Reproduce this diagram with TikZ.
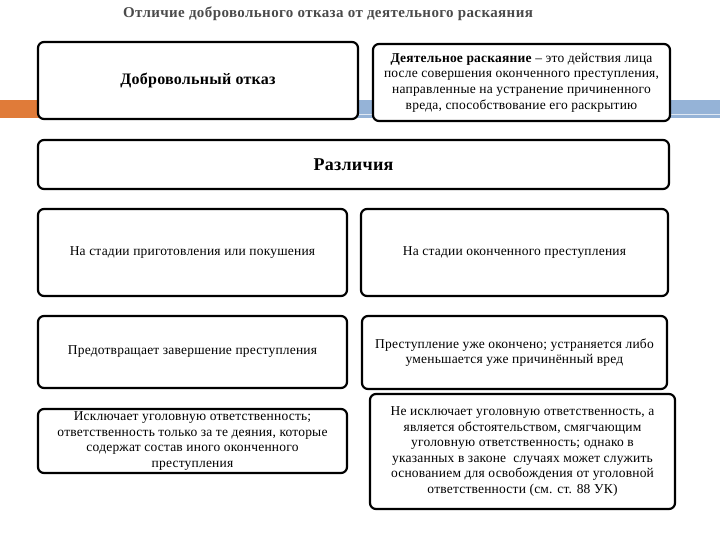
\documentclass[tikz,border=0pt]{standalone}
\usepackage{fontspec}
\setmainfont{Liberation Serif}
\definecolor{bandorange}{HTML}{E07B39}
\definecolor{bandblue}{HTML}{95B3D7}
\definecolor{titlegray}{HTML}{4A4A4A}
\newfontfamily\bodyfont[LetterSpace=1.5]{Liberation Serif}
\newfontfamily\titlefont[LetterSpace=2.6]{Liberation Serif}
\tikzset{
  box/.style={draw=black, line width=2.2pt, rounded corners=6pt, fill=white,
    inner sep=0pt, align=center, font=\bodyfont\fontsize{13.5}{15.6}\selectfont},
}
\begin{document}
\begin{tikzpicture}[x=1pt,y=-1pt]
\useasboundingbox (0,0) rectangle (720,540);
% band
\fill[bandorange] (0,100) rectangle (40,118);
\fill[bandblue] (40,100) rectangle (720,118);
\fill[white!70!bandblue] (40,114) rectangle (720,115.5);
% title
\node[text=titlegray, font=\titlefont\bfseries\fontsize{15}{17}\selectfont] (title) at (328,14) {Отличие добровольного отказа от деятельного раскаяния};
% top boxes
\node[box, minimum width=320pt, minimum height=77pt, font=\bodyfont\bfseries\fontsize{16}{18}\selectfont] (dob) at (198,80.5) {Добровольный отказ};
\node[box, minimum width=297pt, minimum height=77pt] (der) at (521.5,82.5)
  {\textbf{Деятельное раскаяние} – это действия лица\\после совершения оконченного преступления,\\направленные на устранение причиненного\\вреда, способствование его раскрытию};
\node[box, minimum width=631pt, minimum height=49pt, font=\bodyfont\bfseries\fontsize{18}{20}\selectfont] (raz) at (353.5,164.5) {Различия};
% rows
\node[box, minimum width=309pt, minimum height=87pt] (a1) at (192.5,252.5) {На стадии приготовления или покушения};
\node[box, minimum width=307pt, minimum height=87pt] (b1) at (514.5,252.5) {На стадии оконченного преступления};
\node[box, minimum width=309pt, minimum height=72pt] (a2) at (192.5,352) {Предотвращает завершение преступления};
\node[box, minimum width=305pt, minimum height=73pt] (b2) at (514.5,352.5) {Преступление уже окончено; устраняется либо\\уменьшается уже причинённый вред};
\node[box, minimum width=309pt, minimum height=64pt] (a3) at (192.5,441) {Исключает уголовную ответственность;\\ответственность только за те деяния, которые\\содержат состав иного оконченного\\преступления};
\node[box, minimum width=305pt, minimum height=115pt] (b3) at (522.5,451.5) {Не исключает уголовную ответственность, а\\является обстоятельством, смягчающим\\уголовную ответственность; однако в\\указанных в законе~ случаях может служить\\основанием для освобождения от уголовной\\ответственности (см. ст. 88 УК)};
\end{tikzpicture}
\end{document}
